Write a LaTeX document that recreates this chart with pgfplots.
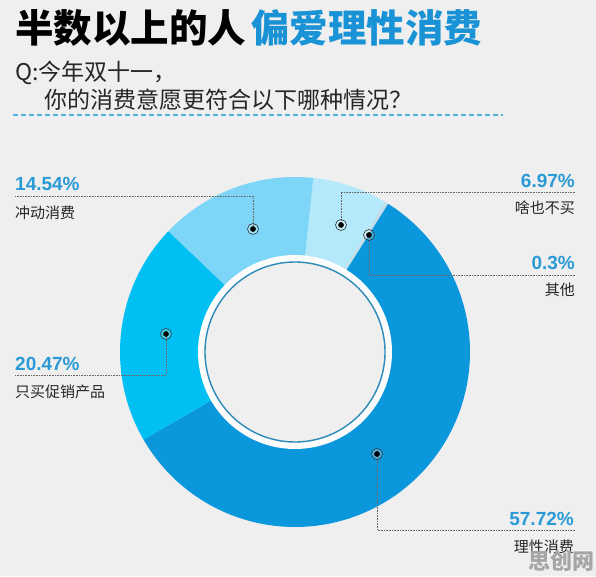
\documentclass[border=0pt]{standalone}
\usepackage{pgfplots}
\pgfplotsset{compat=1.18}
\usepackage{fontspec}
\setmainfont{Liberation Sans}
\newfontfamily\cjk{Noto Sans CJK SC}
\definecolor{bg}{HTML}{EFEFEF}
\definecolor{cRational}{HTML}{0A97DC}
\definecolor{cPromo}{HTML}{00BFF3}
\definecolor{cImpulse}{HTML}{7DD6F7}
\definecolor{cNone}{HTML}{B3E9FB}
\definecolor{cOther}{HTML}{C5DDE8}
\definecolor{titleblue}{HTML}{1A93D6}
\definecolor{numblue}{HTML}{2A9AD6}
\definecolor{dashblue}{HTML}{4FB3DC}
\definecolor{ringblue}{HTML}{2A8AB8}
\begin{document}
\begin{tikzpicture}
% data (percent)
\def\vNone{6.97}
\def\vOther{0.3}
\def\vRational{57.72}
\def\vPromo{20.47}
\def\vImpulse{14.54}
\pgfmathsetmacro{\aA}{84}
\pgfmathsetmacro{\aB}{\aA-3.6*\vNone}
\pgfmathsetmacro{\aC}{\aB-3.6*\vOther}
\pgfmathsetmacro{\aD}{\aC-3.6*\vRational}
\pgfmathsetmacro{\aE}{\aD-3.6*\vPromo}
\pgfmathsetmacro{\aF}{\aE-3.6*\vImpulse}
\begin{axis}[x=1pt,y=1pt,xmin=0,xmax=596,ymin=0,ymax=576,
  hide axis, clip=false, scale only axis]
\addplot[fill=bg, draw=none] coordinates {(0,0) (596,0) (596,576) (0,576)} -- cycle;
% donut wedges
\addplot[fill=cNone, draw=none, domain=\aB:\aA, samples=40, variable=\t] ({295+175*cos(\t)},{224+175*sin(\t)}) -- (axis cs:295,224) -- cycle;
\addplot[fill=cOther, draw=none, domain=\aC:\aB, samples=5, variable=\t] ({295+175*cos(\t)},{224+175*sin(\t)}) -- (axis cs:295,224) -- cycle;
\addplot[fill=cRational, draw=none, domain=\aD:\aC, samples=150, variable=\t] ({295+175*cos(\t)},{224+175*sin(\t)}) -- (axis cs:295,224) -- cycle;
\addplot[fill=cPromo, draw=none, domain=\aE:\aD, samples=60, variable=\t] ({295+175*cos(\t)},{224+175*sin(\t)}) -- (axis cs:295,224) -- cycle;
\addplot[fill=cImpulse, draw=none, domain=\aF:\aE, samples=50, variable=\t] ({295+175*cos(\t)},{224+175*sin(\t)}) -- (axis cs:295,224) -- cycle;
% inner rings
\addplot[fill=white!80!bg, draw=none, domain=0:360, samples=180, variable=\t] ({295+97*cos(\t)},{224+97*sin(\t)}) -- cycle;
\addplot[fill=bg, draw=ringblue, line width=1.4pt, domain=0:360, samples=180, variable=\t] ({295+90*cos(\t)},{224+90*sin(\t)}) -- cycle;
% leader lines
\addplot[gray!80!black, densely dotted, line width=0.6pt] coordinates {(15,380) (253,380) (253,347)};
\addplot[gray!80!black, densely dotted, line width=0.6pt] coordinates {(15,201) (166,201) (166,242)};
\addplot[gray!80!black, densely dotted, line width=0.6pt] coordinates {(575,384) (341,384) (341,351)};
\addplot[gray!80!black, densely dotted, line width=0.6pt] coordinates {(575,301) (369,301) (369,341)};
\addplot[gray!80!black, densely dotted, line width=0.6pt] coordinates {(575,46) (377,46) (377,122)};
% dots
\addplot[only marks, mark=*, mark size=5.5pt, mark options={fill=white, fill opacity=0.25, draw=black!80, line width=0.6pt}] coordinates {(253,347) (166,242) (341,351) (369,341) (377,122)};
\addplot[only marks, mark=*, mark size=2.6pt, mark options={fill=black, draw=black}] coordinates {(253,347) (166,242) (341,351) (369,341) (377,122)};
% dashed separator
\addplot[dashblue, line width=1.5pt, dash pattern=on 5pt off 3pt] coordinates {(13,461) (503,461)};
% title
\node[anchor=west, inner sep=0pt, font=\cjk\bfseries\fontsize{38.5}{42}\selectfont] at (axis cs:15,548) {半数以上的人\hspace{5pt}\textcolor{titleblue}{偏爱理性消费}};
\node[anchor=west, inner sep=0pt, font=\cjk\fontsize{23}{26}\selectfont, text=black!85] at (axis cs:15,503) {Q:今年双十一，};
\node[anchor=west, inner sep=0pt, font=\cjk\fontsize{23}{26}\selectfont, text=black!85] at (axis cs:44,476) {你的消费意愿更符合以下哪种情况？};
% labels
\node[anchor=west, inner sep=0pt, font=\bfseries\fontsize{19}{22}\selectfont, text=numblue] at (axis cs:15,392) {14.54\%};
\node[anchor=west, inner sep=0pt, font=\cjk\fontsize{15}{18}\selectfont, text=black!85] at (axis cs:15,363) {冲动消费};
\node[anchor=west, inner sep=0pt, font=\bfseries\fontsize{19}{22}\selectfont, text=numblue] at (axis cs:15,212) {20.47\%};
\node[anchor=west, inner sep=0pt, font=\cjk\fontsize{15}{18}\selectfont, text=black!85] at (axis cs:15,184) {只买促销产品};
\node[anchor=east, inner sep=0pt, font=\bfseries\fontsize{19}{22}\selectfont, text=numblue] at (axis cs:575,395) {6.97\%};
\node[anchor=east, inner sep=0pt, font=\cjk\fontsize{15}{18}\selectfont, text=black!85] at (axis cs:575,368) {啥也不买};
\node[anchor=east, inner sep=0pt, font=\bfseries\fontsize{19}{22}\selectfont, text=numblue] at (axis cs:575,313) {0.3\%};
\node[anchor=east, inner sep=0pt, font=\cjk\fontsize{15}{18}\selectfont, text=black!85] at (axis cs:575,286) {其他};
\node[anchor=east, inner sep=0pt, font=\bfseries\fontsize{19}{22}\selectfont, text=numblue] at (axis cs:574,57) {57.72\%};
\node[anchor=east, inner sep=0pt, font=\cjk\fontsize{15}{18}\selectfont, text=black!85] at (axis cs:574,29) {理性消费};
% watermark
\node[anchor=center, inner sep=0pt, font=\cjk\bfseries\fontsize{22}{24}\selectfont, text=gray!70] at (axis cs:561,15) {思创网};
\end{axis}
\end{tikzpicture}
\end{document}
